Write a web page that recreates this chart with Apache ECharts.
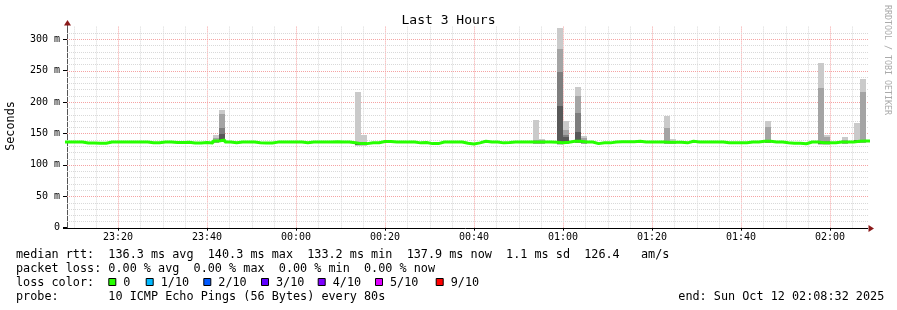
<!DOCTYPE html>
<html><head><meta charset="utf-8">
<script src="https://cdn.jsdelivr.net/npm/echarts@6/dist/echarts.min.js"></script>
<style>html,body{margin:0;padding:0;background:#fff}#c{width:897px;height:310px}</style>
</head><body><div id="c"></div>
<script>
// ---------------- data ----------------
const stepMin = 80 / 60;            // one probe round = 80 s
const firstBarStart = -52;          // minutes relative to 00:00
const xMin = -51 - 28 / 60;         // 23:08:32
const xMax = 128 + 32 / 60;         // 02:08:32
const yMax = 320;
const xTickValues = [-40, -20, 0, 20, 40, 60, 80, 100, 120];
const xTickLabels = ['23:20', '23:40', '00:00', '00:20', '00:40', '01:00', '01:20', '01:40', '02:00'];
const yTickValues = [0, 50, 100, 150, 200, 250, 300];
const yTickLabels = ['0', '50 m', '100 m', '150 m', '200 m', '250 m', '300 m'];

// median RTT per 80 s step (ms)
const median = [
136.4,136.4,136.4, 134.8,134.8,134.5,134.5, 136.4,136.4,136.4,136.4,136.4,136.4,136.4,
135.2,135.2, 136.2,136.2, 135.5,135.5, 136.0, 134.8,134.8, 135.7, 134.8, 138.0, 139.5,
136.2, 135.0, 136.2,136.2,136.2, 135.0, 134.7,134.7, 136.2,136.2,136.2,136.2,136.2,
135.3, 136.2,136.2,136.2,136.2, 136.6, 136.2,136.2, 135.0, 133.8,133.8, 135.2,135.2,
137.3,137.3, 136.4,136.4,136.4,136.4, 135.0, 135.5, 133.8,133.8, 136.4,136.4,136.4,136.4,
134.3, 133.2, 135.0, 137.5, 136.4,136.4, 135.0, 135.5, 136.4,136.4,136.4,136.4,136.4,136.4,
136.2, 135.8, 135.0, 136.0, 137.5,137.5, 136.4,136.4, 133.8, 135.0,135.0, 136.4,
136.8,136.8,136.8, 137.5, 136.4,136.4,136.4,136.4, 136.0,136.0, 136.0, 135.0, 137.5,
136.4,136.4,136.4,136.4,136.4, 135.3,135.3,135.3,135.3, 136.4,136.4, 137.5,137.5,
136.4,136.4, 135.3, 134.3,134.3, 133.6, 136.4,136.4, 135.3,135.3,135.3, 136.4,136.4,136.4,
137.5,137.9,137.9
];

// steps whose pings spread visibly above the median (ms); null = at median
const spikeBars = [25, 26, 49, 50, 79, 80, 83, 84, 86, 87, 101, 102, 118, 127, 128, 131, 133, 134];
const spikeP10  = [147.5, 187, 216, 147.5, 171.5, 141, 318, 169, 224, 146.5, 177.6, 141, 170, 262, 148, 143.8, 167, 236.6];
const spikeP9   = [143, 181, null, null, null, null, 284, 155.5, 209, 142, 158, null, 161, 222, 145, 139.5, null, 215.4];
const spikeP8   = [139.5, 159, null, null, null, null, 248, 147.5, 183, null, null, null, null, null, null, null, null, null];
const spikeP7   = [139, 149, null, null, null, null, 194, 143.8, 152, null, null, null, null, null, null, null, null, null];

const smokeShades = ['#cacaca', '#a4a4a4', '#7e7e7e', '#585858', '#323232'];

const lossLabels = ['0', '1/10', '2/10', '3/10', '4/10', '5/10', '9/10'];
const lossColors = ['#26ff00', '#00b8ff', '#0059ff', '#5e00ff', '#7e00ff', '#dd00ff', '#ff0000'];

const titleText = 'Last 3 Hours';
const yAxisName = 'Seconds';
const statsRtt  = 'median rtt:  136.3 ms avg  140.3 ms max  133.2 ms min  137.9 ms now  1.1 ms sd  126.4   am/s';
const statsLoss = 'packet loss: 0.00 % avg  0.00 % max  0.00 % min  0.00 % now';
const lossTitle = 'loss color:';
const probeText = 'probe:       10 ICMP Echo Pings (56 Bytes) every 80s';
const endText   = 'end: Sun Oct 12 02:08:32 2025';
const watermark = 'RRDTOOL / TOBI OETIKER';

// ---------------- layout ----------------
const G = { left: 67, top: 26.6, width: 801, height: 201.1 };
const FONT = "'DejaVu Sans Mono', 'Liberation Mono', monospace";
const lossBoxX = [108.3, 145.7, 203.3, 261, 317.7, 375, 435.7];

const barStart = k => firstBarStart + k * stepMin;

// smoke bands
const smokeData = [];
spikeBars.forEach((k, j) => {
  const m = median[k];
  const up = [m + 1, spikeP7[j] ?? m + 1.5, spikeP8[j] ?? m + 2, spikeP9[j] ?? m + 2.5, spikeP10[j]];
  const lo = [m - 1, m - 1.5, m - 2, m - 2.5, m - 3];
  for (let i = 0; i < 5; i++) {
    const hi = up[4 - i], low = lo[4 - i];
    if (hi > low) smokeData.push([barStart(k), barStart(k + 1), low, hi, i]);
  }
});

const lineData = median.map((v, k) => [barStart(k), v]);
lineData.push([barStart(median.length), median[median.length - 1]]);

// grid lines
const gridData = [];
for (let t = -50; t <= 125; t += 5) gridData.push([0, t, t % 20 === 0 ? 1 : 0]);
for (let v = 10; v <= 310; v += 10) gridData.push([1, v, v % 50 === 0 ? 1 : 0]);

const chart = echarts.init(document.getElementById('c'), null, { renderer: 'canvas' });

function renderGrid(params, api) {
  const cs = params.coordSys;
  const dir = api.value(0), val = api.value(1), major = api.value(2);
  const color = major ? '#f5a3a3' : '#d9d9d9';
  if (dir === 0) {
    const p = api.coord([val, 0]);
    const x = Math.round(p[0]) + 0.5;
    return { type: 'line', shape: { x1: x, y1: cs.y, x2: x, y2: cs.y + cs.height },
      style: { stroke: color, lineWidth: 1, lineDash: [1, 1] } };
  } else {
    const p = api.coord([xMin, val]);
    const y = Math.round(p[1]) + 0.5;
    return { type: 'line', shape: { x1: cs.x, y1: y, x2: cs.x + cs.width, y2: y },
      style: { stroke: color, lineWidth: 1, lineDash: [1, 1] } };
  }
}

function renderSmoke(params, api) {
  const cs = params.coordSys;
  const p0 = api.coord([api.value(0), api.value(3)]);
  const p1 = api.coord([api.value(1), api.value(2)]);
  const x0 = Math.round(p0[0]), x1 = Math.round(p1[0]);
  const y0 = Math.round(p0[1]), y1 = Math.round(p1[1]);
  const r = echarts.graphic.clipRectByRect(
    { x: x0, y: y0, width: x1 - x0, height: Math.max(1, y1 - y0) },
    { x: cs.x, y: cs.y, width: cs.width, height: cs.height });
  if (!r) return null;
  return { type: 'rect', shape: r, style: { fill: smokeShades[api.value(4)] } };
}

const textStyle = (txt, x, y, extra) => ({
  type: 'text', x, y, silent: true,
  style: Object.assign({ text: txt, fill: '#000', font: '11.8px ' + FONT, textVerticalAlign: 'middle' }, extra || {})
});

const graphics = [
  textStyle(statsRtt, 16, 254.5),
  textStyle(statsLoss, 16, 268.5),
  textStyle(lossTitle, 16, 282.5),
  textStyle(probeText, 16, 296.5),
  textStyle(endText, 678.3, 296.5),
  { type: 'text', x: 11, y: 126, rotation: Math.PI / 2, silent: true,
    style: { text: yAxisName, fill: '#000', font: '11.8px ' + FONT, textAlign: 'center', textVerticalAlign: 'middle' } },
  { type: 'text', x: 887.5, y: 5, rotation: -Math.PI / 2, silent: true,
    style: { text: watermark, fill: '#aaaaaa', font: '8.3px ' + FONT, textAlign: 'left', textVerticalAlign: 'middle' } },
  { type: 'line', silent: true, shape: { x1: 67.5, y1: G.top, x2: 67.5, y2: 22 }, style: { stroke: '#555', lineWidth: 1 } },
  { type: 'line', silent: true, shape: { x1: 63, y1: 228.5, x2: 868, y2: 228.5 }, style: { stroke: '#000', lineWidth: 1 } },
  { type: 'polygon', silent: true, shape: { points: [[64, 25.5], [71, 25.5], [67.5, 20]] }, style: { fill: '#8b1a1a' } },
  { type: 'polygon', silent: true, shape: { points: [[868.5, 225], [868.5, 232], [874, 228.5]] }, style: { fill: '#8b1a1a' } }
];
lossLabels.forEach((lab, i) => {
  graphics.push({ type: 'rect', silent: true, shape: { x: lossBoxX[i] + 0.5, y: 278.5, width: 7, height: 7 },
    style: { fill: lossColors[i], stroke: '#000', lineWidth: 1 } });
  graphics.push(textStyle(lab, lossBoxX[i] + 15, 282.5));
});

chart.setOption({
  animation: false,
  backgroundColor: '#ffffff',
  title: { text: titleText, left: 'center', top: 9,
    textStyle: { fontFamily: FONT, fontSize: 13, fontWeight: 'normal', color: '#000' } },
  grid: { left: G.left, top: G.top, width: G.width, height: G.height, containLabel: false },
  xAxis: {
    type: 'value', min: xMin, max: xMax,
    axisLine: { show: false },
    axisTick: { show: true, customValues: xTickValues, length: 3, lineStyle: { color: '#000' } },
    axisLabel: { customValues: xTickValues, margin: 5, fontFamily: FONT, fontSize: 10, color: '#000',
      formatter: v => xTickLabels[xTickValues.indexOf(Math.round(v))] || '' },
    splitLine: { show: false }
  },
  yAxis: {
    type: 'value', min: 0, max: yMax,
    axisLine: { show: true, onZero: false, lineStyle: { color: '#555', width: 1 } },
    axisTick: { show: true, customValues: yTickValues, length: 4, lineStyle: { color: '#000' } },
    axisLabel: { customValues: yTickValues, margin: 7, fontFamily: FONT, fontSize: 10, color: '#000',
      formatter: v => yTickLabels[yTickValues.indexOf(Math.round(v))] || '' },
    splitLine: { show: false }
  },
  series: [
    { type: 'custom', name: 'grid', renderItem: renderGrid, data: gridData, z: 1, silent: true, clip: false },
    { type: 'custom', name: 'smoke', renderItem: renderSmoke, data: smokeData, z: 2, silent: true },
    { type: 'line', name: 'median', data: lineData, step: 'end', symbol: 'none', z: 3, clip: true,
      lineStyle: { color: lossColors[0], width: 3 }, silent: true }
  ],
  graphic: graphics
});
</script>
</body></html>
